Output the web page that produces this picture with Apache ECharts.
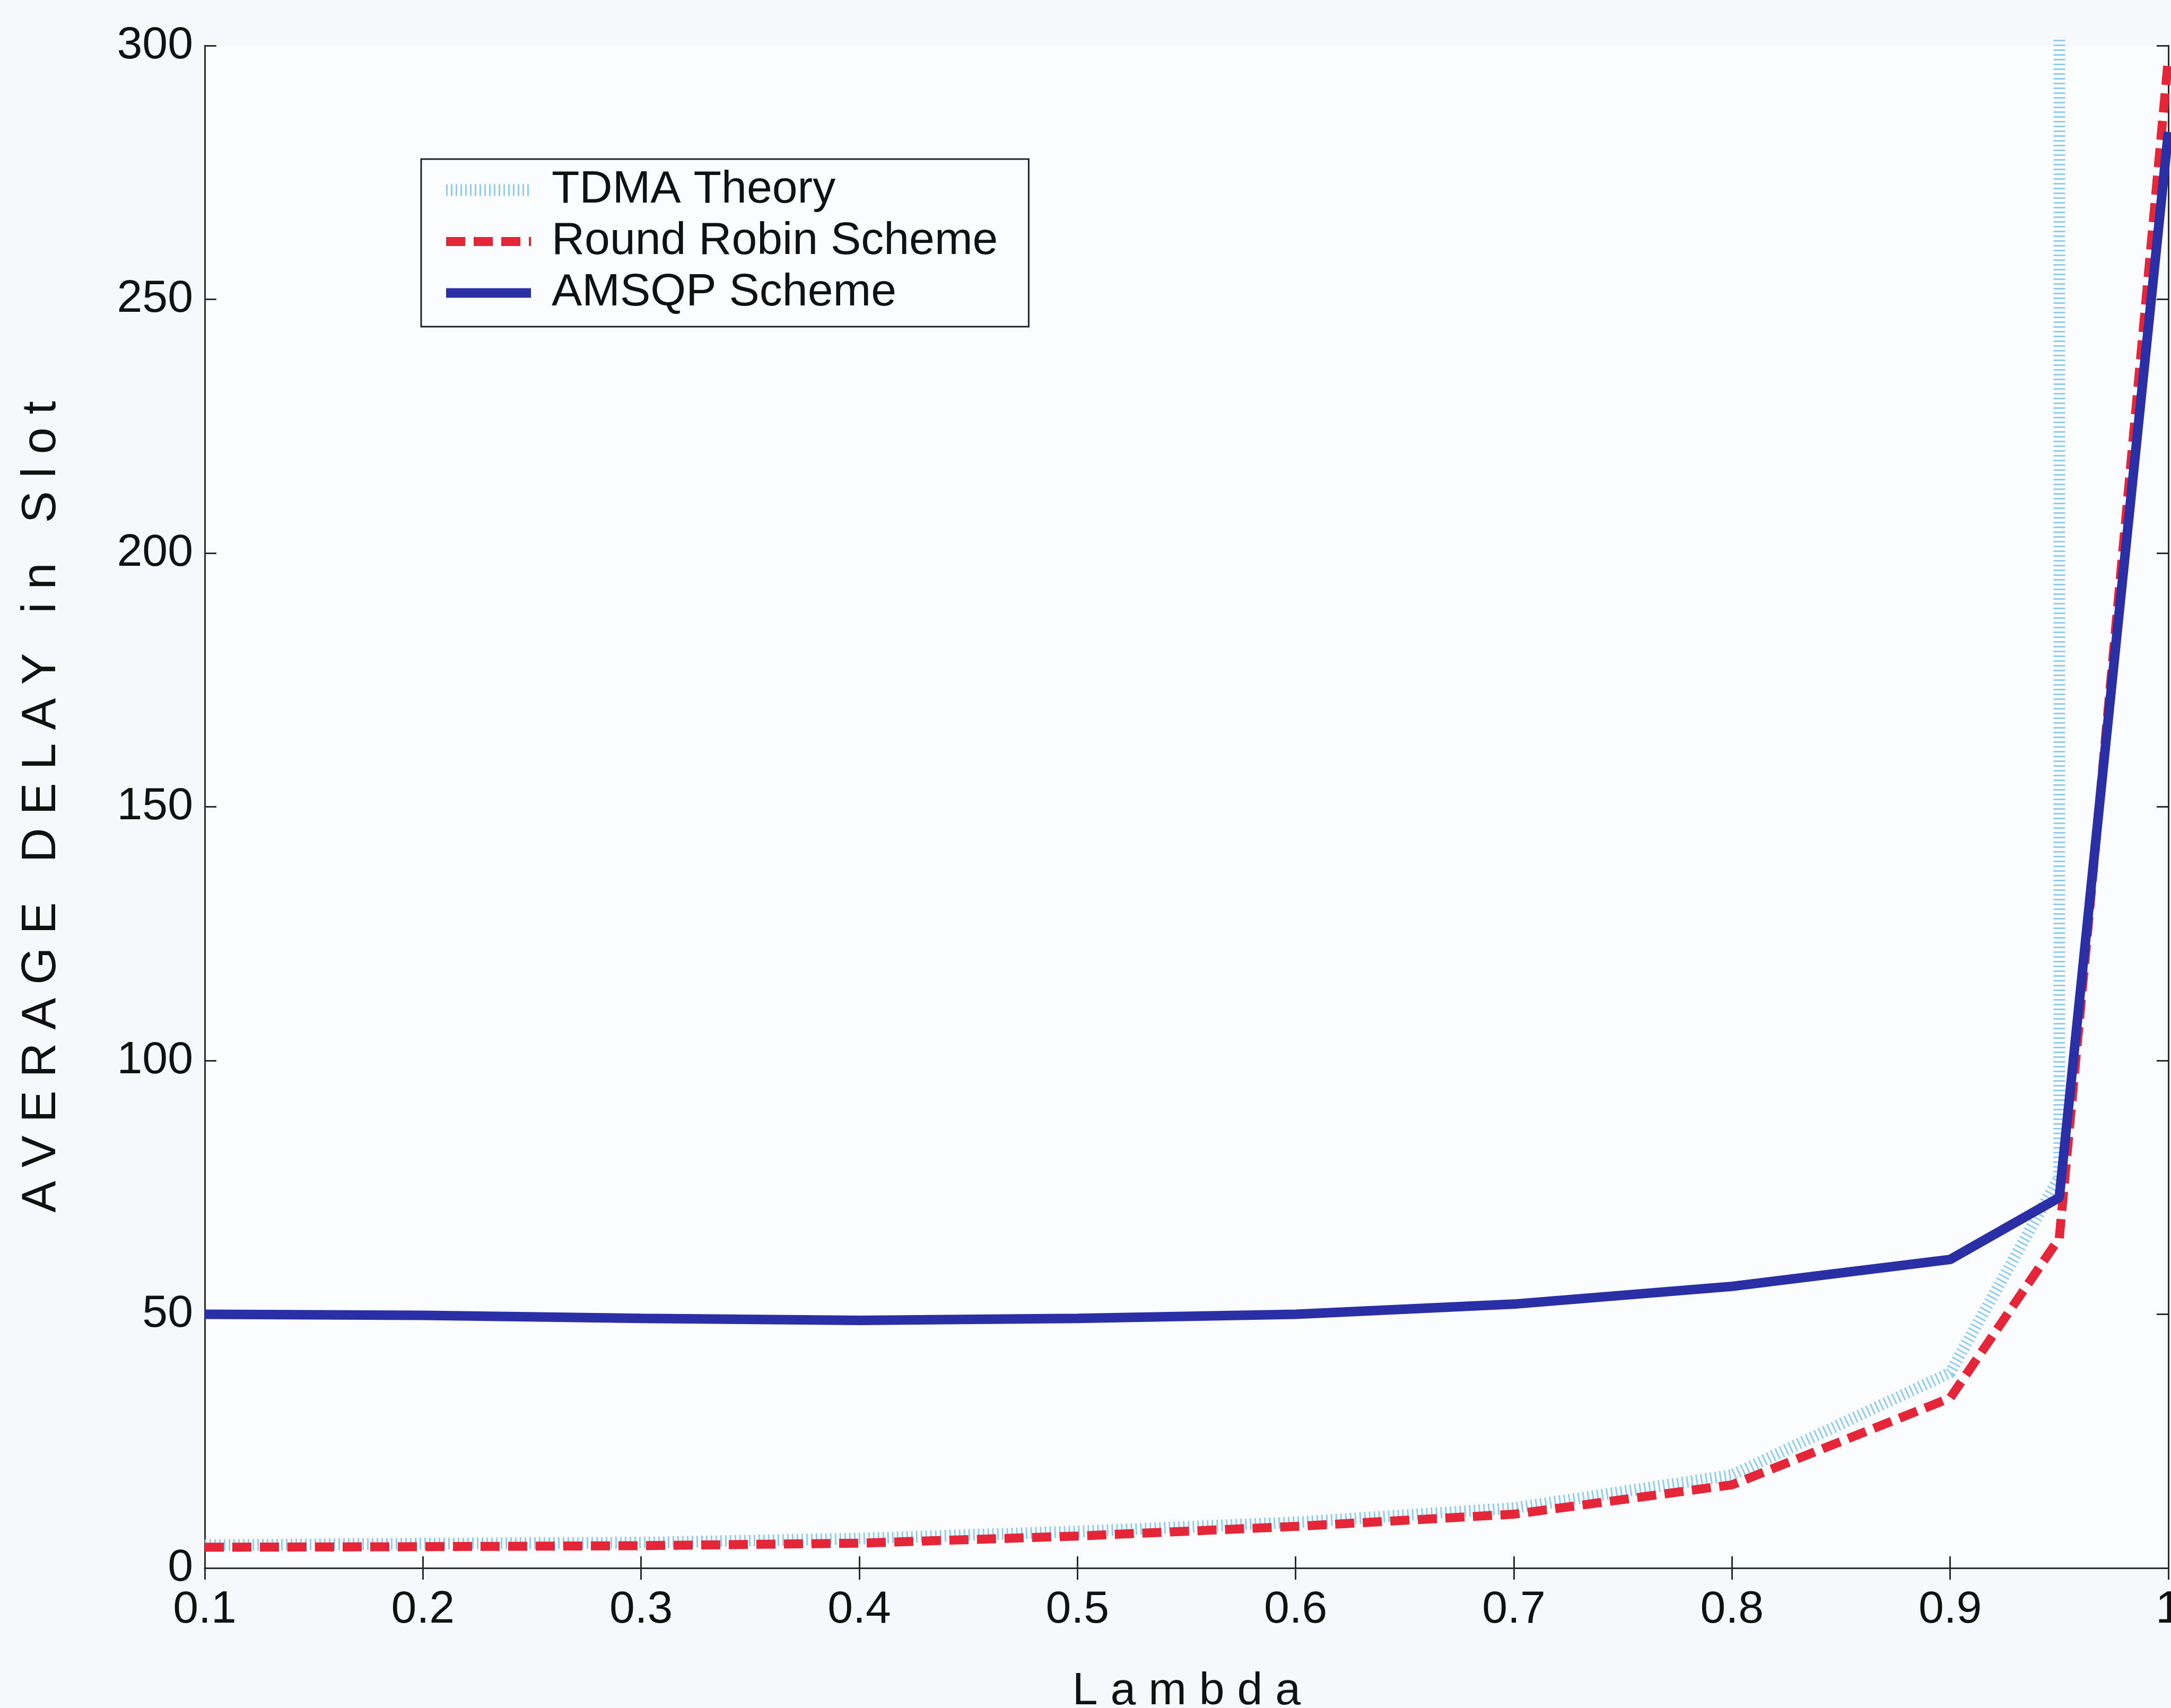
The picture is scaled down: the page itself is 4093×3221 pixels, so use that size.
<!DOCTYPE html>
<html>
<head>
<meta charset="utf-8">
<script src="https://cdn.jsdelivr.net/npm/echarts@6/dist/echarts.min.js"></script>
<style>
html,body{margin:0;padding:0;background:#f6f8fb;}
#chart{width:4093px;height:3221px;}
</style>
</head>
<body>
<div id="chart"></div>
<script>
// ---- data ----
const lambdaX = [0.1, 0.2, 0.3, 0.4, 0.5, 0.6, 0.7, 0.8, 0.9, 0.95, 1.0];
const tdmaX = [0.1, 0.2, 0.3, 0.4, 0.5, 0.6, 0.7, 0.8, 0.9, 0.95, 0.9505];
const tdmaTheory = [4.5, 4.8, 5.0, 5.8, 7.2, 9.0, 11.8, 18.3, 38.5, 77, 2000];
const roundRobin = [4.1, 4.2, 4.4, 4.9, 6.3, 8.2, 10.6, 16.4, 33.5, 65, 297.5];
const amsqp = [50.0, 49.8, 49.2, 48.8, 49.2, 50.0, 52.0, 55.5, 60.8, 73, 283];
const seriesNames = ['TDMA Theory', 'Round Robin Scheme', 'AMSQP Scheme'];
const yTicks = [0, 50, 100, 150, 200, 250, 300];
const xTickLabels = ['0.1','0.2','0.3','0.4','0.5','0.6','0.7','0.8','0.9','1'];

const pairs = (xs, ys) => xs.map((x, i) => [x, ys[i]]);
const FONT = '"Liberation Sans", Arial, sans-serif';
const AX = '#2b2b2b';
const C_TDMA = '#8fcdee', C_RR = '#e52638', C_AM = '#2a2fa6';
const LS_TDMA = {color: C_TDMA, width: 22, type: [3, 6], cap: 'butt'};
const LS_RR = {color: C_RR, width: 17, type: [36, 16], cap: 'butt'};
const LS_AM = {color: C_AM, width: 18};

const chart = echarts.init(document.getElementById('chart'), null, {renderer: 'canvas'});
const tickLabelFmt = v => {
  const r = Math.round(v * 10) / 10;
  return r === 1 ? '1' : r.toFixed(1);
};
const option = {
  backgroundColor: '#f6f8fb',
  animation: false,
  grid: {left: 386, right: 5, top: 86, bottom: 264, show: true, backgroundColor: '#fbfcfd', borderWidth: 0,
         containLabel: false, outerBoundsMode: 'none'},
  legend: {
    orient: 'vertical',
    left: 794, top: 300,
    data: [
      {name: seriesNames[0], lineStyle: Object.assign({opacity: 1}, LS_TDMA), itemStyle: {opacity: 0}},
      {name: seriesNames[1], lineStyle: Object.assign({opacity: 1}, LS_RR), itemStyle: {opacity: 0}},
      {name: seriesNames[2], lineStyle: Object.assign({opacity: 1}, LS_AM), itemStyle: {opacity: 0}}
    ],
    backgroundColor: '#fbfcfd',
    borderColor: '#222', borderWidth: 3,
    padding: [10, 58, 15, 36],
    itemWidth: 160, itemHeight: 30, itemGap: 0,
    textStyle: {fontFamily: FONT, fontSize: 86, color: '#111', lineHeight: 97, padding: [0, 0, 0, 34]}
  },
  xAxis: [{
    type: 'value', min: 0.1, max: 1, interval: 0.1,
    name: 'L a m b d a', nameLocation: 'middle', nameGap: 190,
    nameTextStyle: {fontFamily: FONT, fontSize: 86, color: '#111'},
    axisLine: {show: true, lineStyle: {color: AX, width: 3}},
    axisTick: {show: true, inside: true, length: 22, lineStyle: {color: AX, width: 3}},
    axisLabel: {fontFamily: FONT, fontSize: 86, color: '#111', margin: 36,
      formatter: v => { const s = tickLabelFmt(v); return xTickLabels.indexOf(s) >= 0 ? s : ''; }},
    splitLine: {show: false}
  }, {
    type: 'value', position: 'top', min: 0.1, max: 1, interval: 0.1,
    axisLine: {show: true, lineStyle: {color: AX, width: 3}},
    axisTick: {show: true, inside: true, length: 22, lineStyle: {color: AX, width: 3}},
    axisLabel: {show: false}, splitLine: {show: false}
  }],
  yAxis: [{
    type: 'value', min: yTicks[0], max: yTicks[yTicks.length - 1], interval: 50,
    name: 'A V E R A G E   D E L A Y   i n   S l o t', nameLocation: 'middle', nameGap: 262, nameRotate: 90,
    nameTextStyle: {fontFamily: FONT, fontSize: 90, color: '#111'},
    axisLine: {show: true, lineStyle: {color: AX, width: 3}},
    axisTick: {show: true, inside: true, length: 22, lineStyle: {color: AX, width: 3}},
    axisLabel: {fontFamily: FONT, fontSize: 86, color: '#111', margin: 22},
    splitLine: {show: false}
  }, {
    type: 'value', position: 'right', min: yTicks[0], max: yTicks[yTicks.length - 1], interval: 50,
    axisLine: {show: true, lineStyle: {color: AX, width: 3}},
    axisTick: {show: true, inside: true, length: 22, lineStyle: {color: AX, width: 3}},
    axisLabel: {show: false}, splitLine: {show: false}
  }],
  series: [{
    name: seriesNames[0], type: 'line', data: pairs(tdmaX, tdmaTheory),
    symbol: 'none', clip: true, z: 2,
    lineStyle: LS_TDMA, itemStyle: {color: C_TDMA}
  }, {
    name: seriesNames[1], type: 'line', data: pairs(lambdaX, roundRobin),
    symbol: 'none', clip: true, z: 3,
    lineStyle: LS_RR, itemStyle: {color: C_RR}
  }, {
    name: seriesNames[2], type: 'line', data: pairs(lambdaX, amsqp),
    symbol: 'none', clip: true, z: 4,
    lineStyle: LS_AM, itemStyle: {color: C_AM}
  }]
};
chart.setOption(option);
</script>
</body>
</html>
